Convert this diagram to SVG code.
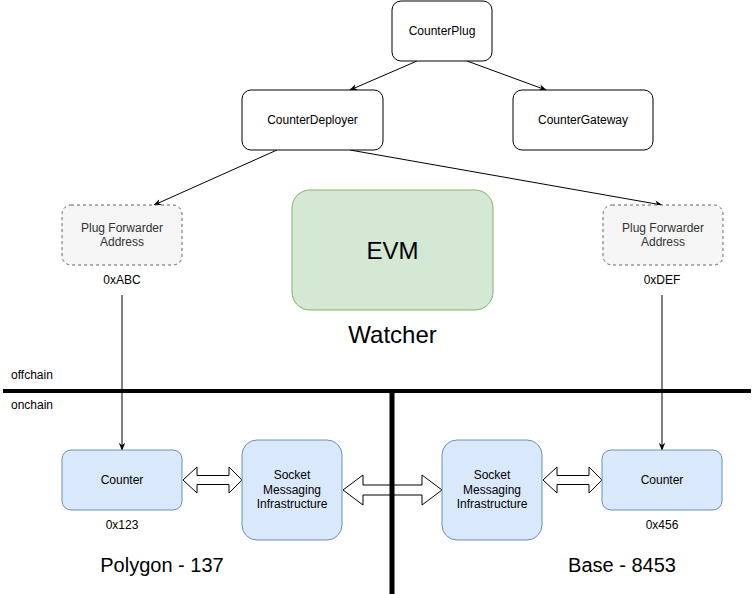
<svg xmlns="http://www.w3.org/2000/svg" width="756" height="594" viewBox="0 0 756 594">
<style>
text{font-family:"Liberation Sans",Arial,sans-serif;fill:#000;text-anchor:middle;font-size:12px}
.g{fill:#333}
.big{font-size:24px}
.chain{font-size:20px}
.plain{fill:#fff;stroke:#000;stroke-width:1}
.fwd{fill:#f5f5f5;stroke:#666;stroke-dasharray:3 3}
.blue{fill:#dae8fc;stroke:#6c8ebf}
.edge{fill:none;stroke:#000;stroke-width:1}
.flex{fill:#fff;stroke:#000;stroke-width:1;stroke-linejoin:miter}
</style>
<defs>
<marker id="ah" viewBox="0 0 10 10" refX="9" refY="5" markerWidth="8" markerHeight="8" markerUnits="userSpaceOnUse" orient="auto">
<path d="M0,1 L10,5 L0,9 L3,5 Z" fill="#000"/>
</marker>
</defs>
<rect width="756" height="594" fill="#fff"/>
<g id="connectors">
<line class="edge" x1="417" y1="61" x2="350" y2="90" marker-end="url(#ah)"/>
<line class="edge" x1="467" y1="61" x2="546" y2="90" marker-end="url(#ah)"/>
<line class="edge" x1="277" y1="150" x2="154" y2="205" marker-end="url(#ah)"/>
<line class="edge" x1="350" y1="150" x2="662" y2="205" marker-end="url(#ah)"/>
<line class="edge" x1="122" y1="295" x2="122" y2="450" marker-end="url(#ah)"/>
<line class="edge" x1="662" y1="295" x2="662" y2="450" marker-end="url(#ah)"/>
<path class="flex" d="M183,480 L197,467 L197,475.5 L229,475.5 L229,467 L242,480 L229,493 L229,484.5 L197,484.5 L197,493 Z"/>
<path class="flex" d="M343,490 L363,475 L363,485 L422,485 L422,475 L442,490 L422,505 L422,495 L363,495 L363,505 Z"/>
<path class="flex" d="M543,480 L557,467 L557,475.5 L589,475.5 L589,467 L602,480 L589,493 L589,484.5 L557,484.5 L557,493 Z"/>
</g>
<g id="dividers">
<line x1="3" y1="391" x2="751" y2="391" stroke="#000" stroke-width="4"/>
<line x1="392" y1="391" x2="392" y2="594" stroke="#000" stroke-width="5"/>
<text x="11" y="379" style="text-anchor:start">offchain</text>
<text x="11" y="409" style="text-anchor:start">onchain</text>
</g>
<g id="counterplug">
<rect class="plain" x="392" y="1" width="100" height="60" rx="9"/>
<text x="442" y="35">CounterPlug</text>
</g>
<g id="counterdeployer">
<rect class="plain" x="242" y="90" width="141" height="60" rx="9"/>
<text x="312.5" y="124">CounterDeployer</text>
</g>
<g id="countergateway">
<rect class="plain" x="513" y="90" width="140" height="60" rx="9"/>
<text x="583" y="124">CounterGateway</text>
</g>
<g id="forwarder-left">
<rect class="fwd" x="62" y="205" width="120" height="60" rx="9"/>
<text class="g" x="122" y="232">Plug Forwarder</text>
<text class="g" x="122" y="246">Address</text>
<text x="122" y="284">0xABC</text>
</g>
<g id="forwarder-right">
<rect class="fwd" x="603" y="205" width="120" height="60" rx="9"/>
<text class="g" x="663" y="232">Plug Forwarder</text>
<text class="g" x="663" y="246">Address</text>
<text x="662" y="284">0xDEF</text>
</g>
<g id="evm">
<rect x="292" y="190" width="201" height="120" rx="18" fill="#d5e8d4" stroke="#82b366"/>
<text class="big" x="392.5" y="259">EVM</text>
<text class="big" x="392.5" y="343">Watcher</text>
</g>
<g id="counter-left">
<rect class="blue" x="62" y="450" width="120" height="60" rx="9"/>
<text x="122" y="484">Counter</text>
<text x="122" y="529">0x123</text>
</g>
<g id="socket-left">
<rect class="blue" x="242" y="440" width="100" height="100" rx="15"/>
<text x="292" y="479">Socket</text>
<text x="292" y="494">Messaging</text>
<text x="292" y="508">Infrastructure</text>
</g>
<g id="socket-right">
<rect class="blue" x="442" y="440" width="100" height="100" rx="15"/>
<text x="492" y="479">Socket</text>
<text x="492" y="494">Messaging</text>
<text x="492" y="508">Infrastructure</text>
</g>
<g id="counter-right">
<rect class="blue" x="602" y="450" width="120" height="60" rx="9"/>
<text x="662" y="484">Counter</text>
<text x="662" y="529">0x456</text>
</g>
<g id="chain-labels">
<text class="chain" x="162" y="572">Polygon - 137</text>
<text class="chain" x="622" y="572">Base - 8453</text>
</g>
</svg>
